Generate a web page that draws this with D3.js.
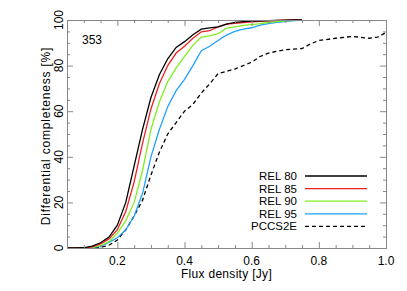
<!DOCTYPE html>
<html>
<head>
<meta charset="utf-8">
<script src="https://cdn.jsdelivr.net/npm/d3@7"></script>
<style>
body { margin: 0; background: #fff; }
svg { display: block; font-family: "Liberation Sans", Arial, sans-serif; }
</style>
</head>
<body>
<svg id="chart" width="407" height="291"></svg>
<script>
var fluxBins = [0.05, 0.075, 0.1, 0.125, 0.15, 0.175, 0.2, 0.225, 0.25, 0.275, 0.3, 0.325, 0.35, 0.375, 0.4,
    0.425, 0.45, 0.475, 0.5, 0.525, 0.55, 0.575, 0.6, 0.625, 0.65, 0.675, 0.7, 0.725, 0.75];

var rel80 = [0, 0, 0.1, 0.8, 2.3, 4.8, 10, 20, 36, 52, 66, 76, 83, 88, 90.5,
    93.5, 96, 96.5, 97, 98.2, 99, 99.3, 99.5, 99.6, 99.7, 99.8, 99.9, 100, 100];
var rel85 = [0, 0, 0.1, 0.5, 1.8, 4, 8, 16, 29, 46, 61, 72, 80, 85.5, 88.5,
    92, 94.8, 95.3, 97, 98.2, 98.5, 98.9, 99.2, 99.4, 99.6, 99.8, 99.9, 100, 100];
var rel90 = [0, 0, 0, 0.3, 1, 2.8, 6.5, 12, 20, 34, 52, 64, 73, 79, 84,
    89, 92.5, 93, 94, 96.4, 97, 97.6, 98, 98.4, 98.9, 99.3, 99.6, 99.8, 100];
var rel95 = [0, 0, 0, 0.2, 0.7, 2.5, 4.5, 8, 14, 24, 40, 52, 62, 69, 74,
    80, 86.5, 88.5, 91, 93.4, 95, 96, 96.6, 97.8, 98.4, 99, 99.3, 99.7, 100];

var pccsFlux = [0.05, 0.1, 0.125, 0.15, 0.175, 0.2, 0.225, 0.25, 0.275, 0.3, 0.325, 0.35, 0.375, 0.4, 0.425,
    0.45, 0.475, 0.5, 0.525, 0.55, 0.575, 0.6, 0.625, 0.65, 0.7, 0.75, 0.775, 0.8, 0.85, 0.9, 0.95, 0.975, 1.0];
var pccs2e = [0, 0, 0.1, 0.3, 1.2, 3.5, 8, 14, 21, 32, 42, 50, 55, 60, 63,
    68, 72, 76.5, 77.5, 78.5, 80, 81.5, 84, 85.5, 87, 87.5, 89.5, 91, 92, 92.8, 92, 92.5, 94.5];

var seriesNames = ["REL 80", "REL 85", "REL 90", "REL 95", "PCCS2E"];
var seriesColors = ["#000000", "#f02020", "#80ee20", "#20a0ff", "#000000"];

var xTicks = [0.2, 0.4, 0.6, 0.8, 1.0];
var yTicks = [0, 20, 40, 60, 80, 100];

(function() {
    var svg = d3.select("#chart");
    var margin = {top: 20, right: 21, bottom: 43, left: 67};
    var width = +svg.attr("width") - margin.left - margin.right;
    var height = +svg.attr("height") - margin.top - margin.bottom;

    var x = d3.scaleLinear().domain([0.05, 1.0]).range([0, width]);
    var y = d3.scaleLinear().domain([0, 100]).range([height, 0]);

    var g = svg.append("g").attr("transform", "translate(" + margin.left + "," + margin.top + ")");

    var series = [
        {name: seriesNames[0], xs: fluxBins, ys: rel80},
        {name: seriesNames[1], xs: fluxBins, ys: rel85},
        {name: seriesNames[2], xs: fluxBins, ys: rel90},
        {name: seriesNames[3], xs: fluxBins, ys: rel95},
        {name: seriesNames[4], xs: pccsFlux, ys: pccs2e}
    ];

    var line = d3.line()
        .x(function(d) { return x(d[0]); })
        .y(function(d) { return y(d[1]); });

    // curves, blue first so black sits on top
    series.slice().reverse().forEach(function(s) {
        var i = seriesNames.indexOf(s.name);
        g.append("path")
            .datum(d3.zip(s.xs, s.ys))
            .attr("fill", "none")
            .attr("stroke", seriesColors[i])
            .attr("stroke-width", 1.3)
            .attr("stroke-dasharray", s.name === "PCCS2E" ? "4,3" : null)
            .attr("d", line);
    });

    // frame with inward ticks on all four sides
    var axisColor = "#888";
    var xMinor = d3.range(0.1, 1.0001, 0.05).filter(function(v) { return xTicks.indexOf(Math.round(v * 100) / 100) < 0; });
    var yMinor = d3.range(5, 100, 5).filter(function(v) { return v % 20 !== 0; });

    function tickAxis(axis, scale, major, minor, transform) {
        var a = g.append("g").attr("transform", transform);
        a.call(axis(scale).tickValues(minor).tickSize(-3).tickFormat(""));
        var b = g.append("g").attr("transform", transform);
        b.call(axis(scale).tickValues(major).tickSize(-6).tickFormat(""));
        [a, b].forEach(function(sel) {
            sel.select(".domain").attr("stroke", axisColor);
            sel.selectAll(".tick line").attr("stroke", axisColor);
        });
    }

    tickAxis(d3.axisBottom, x, xTicks, xMinor, "translate(0," + height + ")");
    tickAxis(d3.axisTop, x, xTicks, xMinor, "translate(0,0)");
    tickAxis(d3.axisLeft, y, yTicks, yMinor, "translate(0,0)");
    tickAxis(d3.axisRight, y, yTicks, yMinor, "translate(" + width + ",0)");

    g.selectAll(".xlab").data(xTicks).enter().append("text")
        .attr("x", function(d) { return x(d); })
        .attr("y", height + 17)
        .attr("text-anchor", "middle")
        .attr("font-size", 12)
        .text(d3.format(".1f"));

    g.selectAll(".ylab").data(yTicks).enter().append("text")
        .attr("transform", function(d) { return "translate(-4," + y(d) + ") rotate(-90)"; })
        .attr("text-anchor", "middle")
        .attr("font-size", 12)
        .text(function(d) { return d; });

    g.append("text")
        .attr("x", width / 2)
        .attr("y", height + 30)
        .attr("text-anchor", "middle")
        .attr("font-size", 12)
        .attr("letter-spacing", 0.3)
        .text("Flux density [Jy]");

    g.append("text")
        .attr("transform", "translate(-17," + (height / 2 + 2) + ") rotate(-90)")
        .attr("text-anchor", "middle")
        .attr("font-size", 12)
        .attr("letter-spacing", 0.8)
        .text("Differential completeness [%]");

    g.append("text")
        .attr("x", 15)
        .attr("y", 24)
        .attr("font-size", 12)
        .text("353");

    // legend
    var legend = g.append("g").attr("transform", "translate(230,156)");
    seriesNames.forEach(function(name, i) {
        var row = legend.append("g").attr("transform", "translate(0," + (i * 12.6) + ")");
        row.append("text")
            .attr("x", 0)
            .attr("y", 4)
            .attr("text-anchor", "end")
            .attr("font-size", 11.5)
            .text(name);
        row.append("line")
            .attr("x1", 8).attr("x2", 70)
            .attr("stroke", seriesColors[i])
            .attr("stroke-width", 1.3)
            .attr("stroke-dasharray", name === "PCCS2E" ? "4,3" : null);
    });
}());
</script>
</body>
</html>
